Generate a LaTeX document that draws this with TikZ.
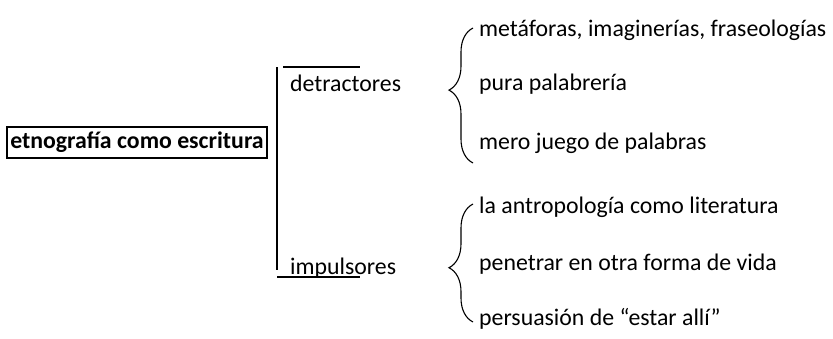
\documentclass[tikz,border=0pt]{standalone}
\usepackage{fontspec}
\setmainfont{Carlito}
\usetikzlibrary{positioning,decorations.pathreplacing}
\tikzset{
	txt/.style={font=\fontsize{23.8}{28}\selectfont, inner sep=0pt, anchor=west},
	titlebox/.style={draw, line width=1.7pt, font=\fontsize{23.8}{28}\selectfont\bfseries, minimum width=260pt, minimum height=31pt, inner sep=1pt},
	rule/.style={line width=1.3pt},
	curly/.style={line width=1.1pt, decorate, decoration={brace, amplitude=24pt, aspect=#1}}
}

\begin{document}
\begin{tikzpicture}[x=1pt,y=-1pt]
	\useasboundingbox (0,0) rectangle (833,338);

	% Main concept
	\node[titlebox] (main) at (137,142.5) {etnografía como escritura};

	% Two branches
	\coordinate (bartop) at (277,67); %top of vertical bar
	\coordinate (barbot) at (277,270); %bottom of vertical bar
	\coordinate (ovl) at (283,67);  %overline start
	\coordinate (ovr) at (360,67);  %overline end
	\coordinate (unl) at (277,277); %underline start
	\coordinate (unr) at (360,277); %underline end
	\node[txt] (detr) at (290,83) {detractores};
	\node[txt] (impu) at (290,268) {impulsores};

	\draw[rule] (bartop) -- (barbot);
	\draw[rule] (ovl) -- (ovr);
	\draw[rule] (unl) -- (unr);

	% Items of detractores
	\node[txt] (d1) at (479,30) {metáforas, imaginerías, fraseologías};
	\node[txt] (d2) at (479,84) {pura palabrería};
	\node[txt] (d3) at (479,143) {mero juego de palabras};
	\coordinate (bd1) at (473,28);
	\coordinate (bd2) at (473,163);
	\draw[curly=0.54] (bd2) -- (bd1);

	% Items of impulsores
	\node[txt] (i1) at (479,207) {la antropología como literatura};
	\node[txt] (i2) at (479,264) {penetrar en otra forma de vida};
	\node[txt] (i3) at (479,319) {persuasión de “estar allí”};
	\coordinate (bi1) at (473,204);
	\coordinate (bi2) at (473,322);
	\draw[curly=0.46] (bi2) -- (bi1);
\end{tikzpicture}
\end{document}
